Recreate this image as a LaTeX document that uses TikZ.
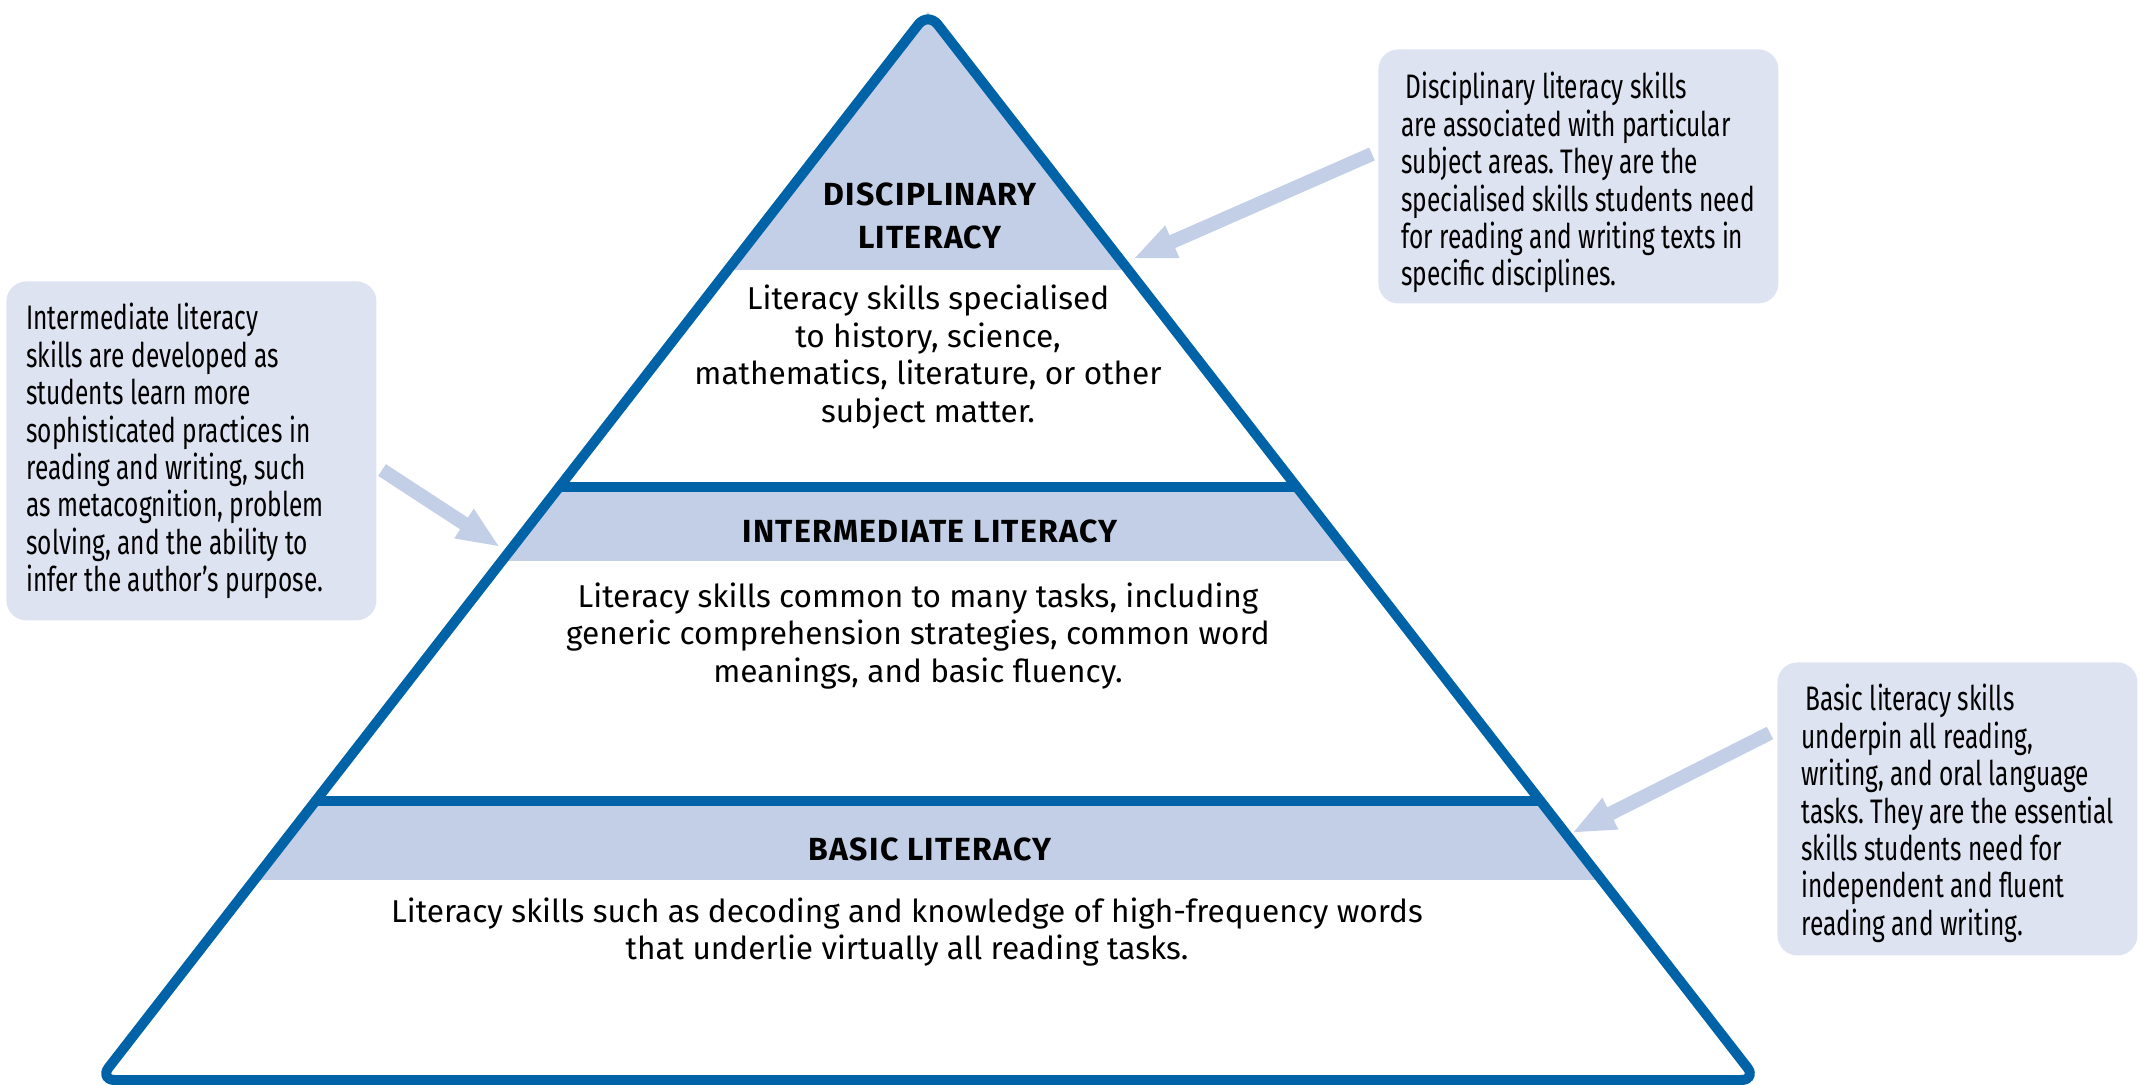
\documentclass[tikz,border=0pt]{standalone}
\usepackage{fontspec}
\setmainfont{Fira Sans}
\newfontfamily\condfont[FakeStretch=0.72]{Fira Sans}
\newfontfamily\headfont[LetterSpace=4]{Fira Sans Bold}
\usetikzlibrary{arrows.meta,calc}
\definecolor{pyrblue}{HTML}{0063A8}
\definecolor{bandfill}{HTML}{C3CFE6}
\definecolor{notefill}{HTML}{DEE3F1}
\frenchspacing
\begin{document}
\begin{tikzpicture}[x=0.5pt,y=-0.5pt,
  pyrline/.style={draw=pyrblue, line width=5pt, line join=round, line cap=round},
  notebox/.style={fill=notefill, rounded corners=10pt, anchor=north west, inner sep=0pt},
  notetext/.style={font=\condfont\fontsize{17}{18.7}\selectfont, align=left, anchor=north west, inner sep=0pt},
  heading/.style={font=\headfont\fontsize{16}{21.5}\selectfont, align=center, inner sep=0pt},
  bodytext/.style={font=\fontsize{15.8}{18.75}\selectfont, align=center, inner sep=0pt},
  callarrow/.style={draw=bandfill, line width=7pt, -{Triangle[length=21.5pt,width=16pt]}}]
\useasboundingbox (0,0) rectangle (2140,1085);
% pyramid corners
\coordinate (A) at (928,12);
\coordinate (BL) at (99,1080);
\coordinate (BR) at (1757,1080);
% bands
\begin{scope}
\clip (A) -- (BL) -- (BR) -- cycle;
\fill[bandfill] (0,0) rectangle (2140,270);
\fill[bandfill] (0,492) rectangle (2140,561);
\fill[bandfill] (0,806) rectangle (2140,880);
\end{scope}
% bars
\coordinate (b1l) at ($(A)!{(487-12)/1068}!(BL)$);
\coordinate (b1r) at ($(A)!{(487-12)/1068}!(BR)$);
\coordinate (b2l) at ($(A)!{(801-12)/1068}!(BL)$);
\coordinate (b2r) at ($(A)!{(801-12)/1068}!(BR)$);
\draw[pyrline] (b1l) -- (b1r);
\draw[pyrline] (b2l) -- (b2r);
\draw[pyrline, rounded corners=8pt] (A) -- (BL) -- (BR) -- cycle;
% pyramid texts
\node[heading] (hdisc) at (930,216) {DISCIPLINARY\\LITERACY};
\node[bodytext] (tdisc) at (928,357) {Literacy skills specialised\\to history, science,\\mathematics, literature, or other\\subject matter.};
\node[heading] (hinter) at (930,531) {INTERMEDIATE LITERACY};
\node[bodytext] (tinter) at (918,636) {Literacy skills common to many tasks, including\\generic comprehension strategies, common word\\meanings, and basic fluency.};
\node[heading] (hbasic) at (930,849) {BASIC LITERACY};
\node[bodytext] (tbasic) at (907,932) {Literacy skills such as decoding and knowledge of high-frequency words\\that underlie virtually all reading tasks.};
% callouts
\node[notebox, minimum width=185pt, minimum height=169.5pt] (nleft) at (6,281) {};
\node[notetext] (tleft) at (26,303) {Intermediate literacy\\skills are developed as\\students learn more\\sophisticated practices in\\reading and writing, such\\as metacognition, problem\\solving, and the ability to\\infer the author’s purpose.};
\node[notebox, minimum width=200pt, minimum height=127pt] (ntop) at (1378,49) {};
\node[notetext] (ttop) at (1401,72) {\hspace{2pt}Disciplinary literacy skills\\are associated with particular\\subject areas. They are the\\specialised skills students need\\for reading and writing texts in\\specific disciplines.};
\node[notebox, minimum width=180pt, minimum height=146.5pt] (nbot) at (1777,662) {};
\node[notetext] (tbot) at (1801,684) {\hspace{2pt}Basic literacy skills\\underpin all reading,\\writing, and oral language\\tasks. They are the essential\\skills students need for\\independent and fluent\\reading and writing.};
% arrows
\coordinate (a1s) at (1372,154);
\coordinate (a1e) at (1133,259);
\coordinate (a2s) at (382,470);
\coordinate (a2e) at (500,547);
\coordinate (a3s) at (1770,733);
\coordinate (a3e) at (1572,833);
\draw[callarrow] (a1s) -- (a1e);
\draw[callarrow] (a2s) -- (a2e);
\draw[callarrow] (a3s) -- (a3e);
\end{tikzpicture}
\end{document}
